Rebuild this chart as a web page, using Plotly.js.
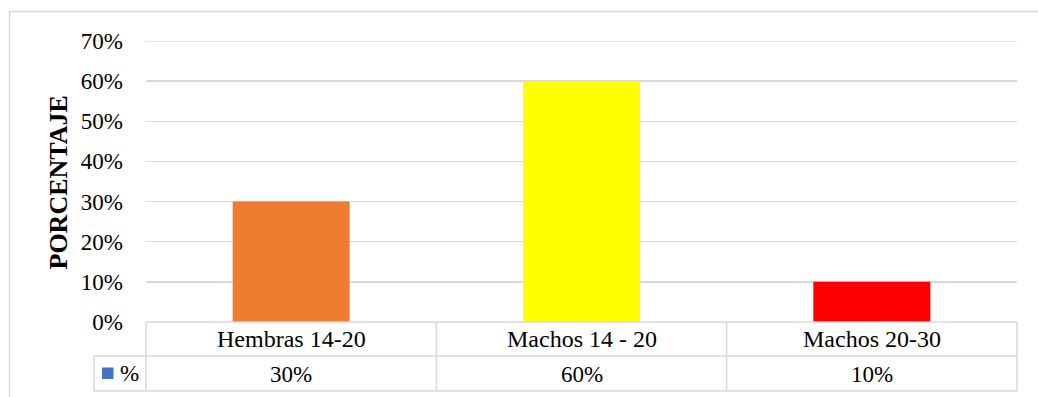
<!DOCTYPE html>
<html>
<head>
<meta charset="utf-8">
<script src="https://cdn.plot.ly/plotly-3.0.1.min.js"></script>
<style>html,body{margin:0;padding:0;background:#fff;}#chart{width:1038px;height:397px;}</style>
</head>
<body>
<div id="chart"></div>
<script>
const categories = ['Hembras 14-20', 'Machos 14 - 20', 'Machos 20-30'];
const values = [0.30, 0.60, 0.10];
const valueLabels = ['30%', '60%', '10%'];
const barColors = ['#ED7D31', '#FFFF00', '#FF0000'];
const seriesName = '%';
const legendColor = '#4472C4';
const yTickVals = [0, 0.1, 0.2, 0.3, 0.4, 0.5, 0.6, 0.7];
const yTickText = ['0%', '10%', '20%', '30%', '40%', '50%', '60%', '70%'];
const yTitle = 'PORCENTAJE';

const W = 1038, H = 397;
const L = 146, R = 1017, T = 41, B = 322;
const pw = R - L, ph = B - T;
const px = x => (x - L) / pw;
const py = y => (B - y) / ph;
const grid = '#d9d9d9';
const serif = '"Liberation Serif", "Times New Roman", serif';

const n = categories.length;
const shapes = [];
const annotations = [];
const line = {color: grid, width: 1.5};
// outer frame
shapes.push({type: 'rect', xref: 'paper', yref: 'paper', x0: px(9.5), x1: px(1045), y0: py(405), y1: py(11.5), line: {color: grid, width: 1.5}, fillcolor: 'rgba(0,0,0,0)'});
// top gridline
shapes.push({type: 'line', xref: 'paper', yref: 'y', x0: 0, x1: 1, y0: 0.7, y1: 0.7, line: {color: grid, width: 1.5}});
// table horizontal lines
shapes.push({type: 'line', xref: 'paper', yref: 'paper', x0: 0, x1: 1, y0: 0, y1: 0, line});
shapes.push({type: 'line', xref: 'paper', yref: 'paper', x0: px(94), x1: 1, y0: py(356), y1: py(356), line});
shapes.push({type: 'line', xref: 'paper', yref: 'paper', x0: px(94), x1: 1, y0: py(391), y1: py(391), line});
shapes.push({type: 'line', xref: 'paper', yref: 'paper', x0: px(94), x1: px(94), y0: py(356), y1: py(391), line});
for (let i = 0; i <= n; i++) {
  shapes.push({type: 'line', xref: 'paper', yref: 'paper', x0: i / n, x1: i / n, y0: 0, y1: py(391), line});
}
// legend key
shapes.push({type: 'rect', xref: 'paper', yref: 'paper', x0: px(102), x1: px(113.5), y0: py(379), y1: py(367.5), line: {width: 0}, fillcolor: legendColor});
annotations.push({xref: 'paper', yref: 'paper', x: px(118), y: py(373.5), xanchor: 'left', yanchor: 'middle', text: seriesName, showarrow: false, font: {family: serif, size: 23, color: '#000'}});

categories.forEach((c, i) => {
  annotations.push({xref: 'x', yref: 'paper', x: c, y: py(339), xanchor: 'center', yanchor: 'middle', text: c, showarrow: false, font: {family: serif, size: 24, color: '#000'}});
  annotations.push({xref: 'x', yref: 'paper', x: c, y: py(374), xanchor: 'center', yanchor: 'middle', text: valueLabels[i], showarrow: false, font: {family: serif, size: 23, color: '#000'}});
});
annotations.push({xref: 'paper', yref: 'paper', x: px(58), y: py(182.5), xanchor: 'center', yanchor: 'middle', textangle: -90, text: '<b>' + yTitle + '</b>', showarrow: false, font: {family: serif, size: 26, color: '#000'}});

const data = [{
  type: 'bar', x: categories, y: values, name: seriesName,
  marker: {color: barColors, line: {width: 0}},
  hoverinfo: 'none'
}];

const layout = {
  width: W, height: H,
  margin: {l: L, r: W - R, t: T, b: H - B, pad: 0},
  paper_bgcolor: '#fff', plot_bgcolor: '#fff',
  showlegend: false,
  bargap: 0.597,
  xaxis: {range: [-0.5, n - 0.5], showticklabels: false, showgrid: false, zeroline: false, showline: false, ticks: ''},
  yaxis: {range: [0, 0.7], tickvals: yTickVals, ticktext: yTickText, showgrid: true, gridcolor: grid, gridwidth: 1.5, zeroline: false, showline: false, ticks: '', ticklabelstandoff: 22, tickfont: {family: serif, size: 23, color: '#000'}},
  shapes, annotations,
  font: {family: serif}
};
Plotly.newPlot('chart', data, layout, {staticPlot: true, displayModeBar: false});
</script>
</body>
</html>
